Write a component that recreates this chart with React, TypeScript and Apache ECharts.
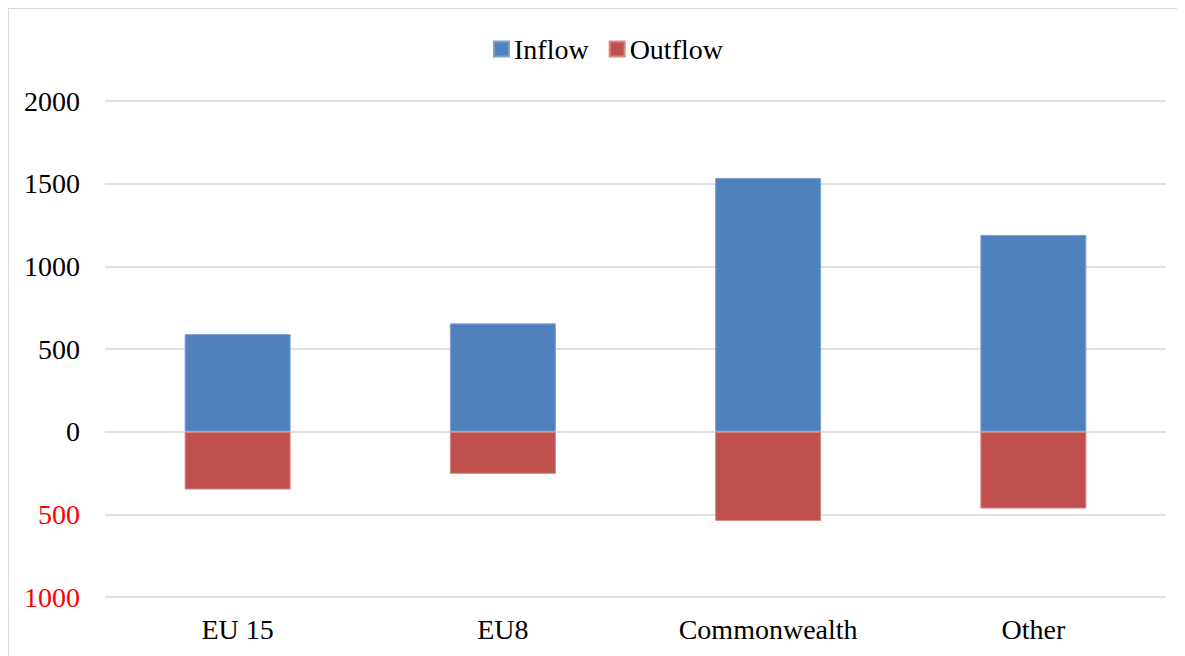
import React, { useEffect, useRef } from "react";
import * as echarts from "echarts";

const categories = ["EU 15", "EU8", "Commonwealth", "Other"];
const inflow = [590, 655, 1535, 1190];
const outflow = [-350, -255, -540, -465];
const seriesNames = ["Inflow", "Outflow"];

const FONT = "'Liberation Serif', 'Times New Roman', serif";
const FS = 28;

export default function App() {
  const ref = useRef<HTMLDivElement>(null);

  useEffect(() => {
    if (!ref.current) return;
    const chart = echarts.init(ref.current, undefined, { renderer: "svg" });
    chart.setOption({
      animation: false,
      textStyle: { fontFamily: FONT },
      legend: {
        top: 21,
        left: 479,
        icon: "rect",
        itemWidth: 15,
        itemHeight: 15,
        itemGap: 20,
        textStyle: { fontFamily: FONT, fontSize: FS, color: "#000" },
        data: seriesNames,
      },
      grid: { left: 96, right: 19, top: 92, bottom: 59 },
      xAxis: {
        type: "category",
        data: categories,
        axisLine: { show: false },
        axisTick: { show: false },
        axisLabel: {
          fontFamily: FONT,
          fontSize: FS,
          color: "#000",
          margin: 18,
        },
      },
      yAxis: {
        type: "value",
        min: -1000,
        max: 2000,
        interval: 500,
        axisLine: { show: false },
        axisTick: { show: false },
        splitLine: { lineStyle: { color: "#d9d9d9", width: 1.5 } },
        axisLabel: {
          margin: 25,
          fontFamily: FONT,
          fontSize: FS,
          color: "#000",
          formatter: (v: number) => (v < 0 ? `{neg|${Math.abs(v)}}` : `${v}`),
          rich: {
            neg: { color: "#ff0000", fontFamily: FONT, fontSize: FS },
          },
        },
      },
      series: [
        {
          name: seriesNames[0],
          type: "bar",
          stack: "flow",
          barWidth: 106,
          data: inflow,
          itemStyle: { color: "#4f81bd", borderColor: "#7ea2cf", borderWidth: 1 },
        },
        {
          name: seriesNames[1],
          type: "bar",
          stack: "flow",
          barWidth: 106,
          data: outflow,
          itemStyle: { color: "#c0504d", borderColor: "#d58785", borderWidth: 1 },
        },
      ],
    });
    return () => chart.dispose();
  }, []);

  return (
    <div
      style={{
        width: 1177,
        height: 648,
        borderLeft: "1px solid #d9d9d9",
        borderTop: "1px solid #d9d9d9",
        boxSizing: "border-box",
        overflow: "hidden",
      }}
    >
      <div ref={ref} style={{ width: 1176, height: 647 }} />
    </div>
  );
}
